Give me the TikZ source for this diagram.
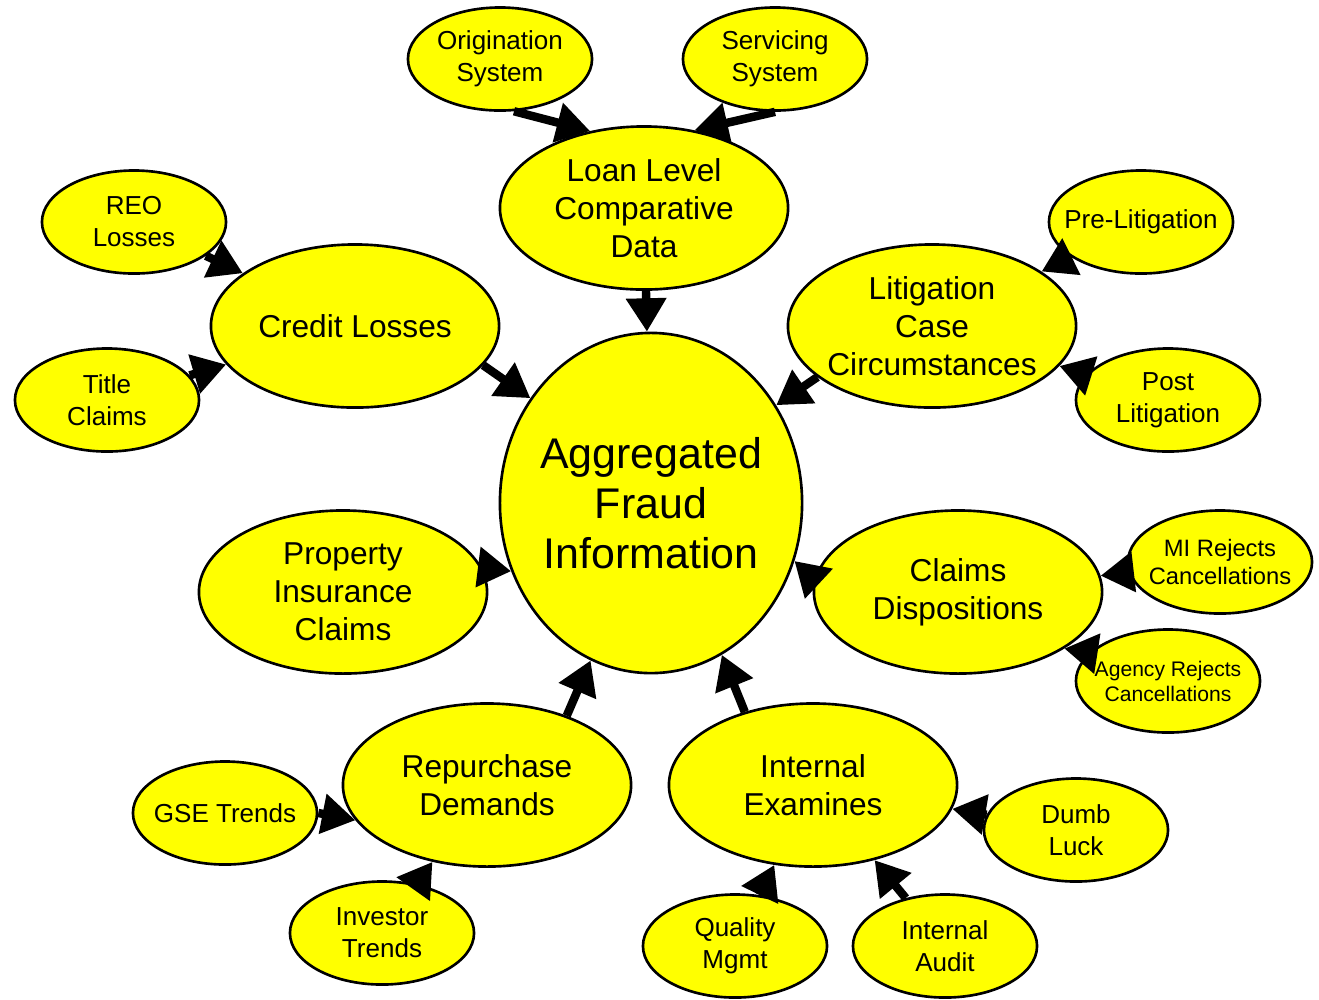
\documentclass[tikz,border=0pt]{standalone}
\usepackage{fontspec}
\setmainfont{Liberation Sans}
\usetikzlibrary{shapes.geometric,arrows.meta}
\definecolor{bubbleyellow}{RGB}{255,255,0}

\begin{document}
\begin{tikzpicture}[x=0.01cm, y=-0.01cm]
    \tikzstyle{bubble}=[ellipse, draw=black, line width=0.75pt, fill=bubbleyellow, align=center, inner xsep=-0.6cm, inner ysep=-2pt]
    \tikzstyle{hub}=[bubble, minimum width=3.02cm, minimum height=3.4cm, font=\fontsize{12.2}{14.2}\selectfont]
    \tikzstyle{mid}=[bubble, minimum width=2.88cm, minimum height=1.63cm, font=\fontsize{9}{10.8}\selectfont]
    \tikzstyle{leaf}=[bubble, minimum width=1.84cm, minimum height=1.03cm, font=\fontsize{7.4}{9.1}\selectfont]
    \tikzstyle{feed}=[draw=black, line width=2.4pt, -{Triangle[length=9.5pt, width=11pt]}]
    \useasboundingbox (0,0) rectangle (1319,999);

    % centre
    \node[hub] (agg) at (651,503) {Aggregated\\Fraud\\Information};

    % second ring
    \node[mid] (loan)   at (644,208) {Loan Level\\Comparative\\Data};
    \node[mid] (credit) at (355,326) {Credit Losses};
    \node[mid] (litig)  at (932,326) {Litigation\\Case\\Circumstances};
    \node[mid] (prop)   at (343,592) {Property\\Insurance\\Claims};
    \node[mid] (claims) at (958,592) {Claims\\Dispositions};
    \node[mid] (repur)  at (487,785) {Repurchase\\Demands};
    \node[mid] (exam)   at (813,785) {Internal\\Examines};

    % outer ring
    \node[leaf] (orig)    at (500,59)   {Origination\\System};
    \node[leaf] (serv)    at (775,59)   {Servicing\\System};
    \node[leaf] (reo)     at (134,222)  {REO\\Losses};
    \node[leaf] (title)   at (107,400)  {Title\\Claims};
    \node[leaf] (prelit)  at (1141,222) {Pre-Litigation};
    \node[leaf] (postlit) at (1168,400) {Post\\Litigation};
    \node[leaf, font=\fontsize{6.75}{8.2}\selectfont] (mirej) at (1220,562) {MI Rejects\\Cancellations};
    \node[leaf, font=\fontsize{6}{7.1}\selectfont] (agrej) at (1168,681) {Agency Rejects\\Cancellations};
    \node[leaf] (gse)     at (225,813)  {GSE Trends};
    \node[leaf] (invest)  at (382,933)  {Investor\\Trends};
    \node[leaf] (quality) at (735,946)  {Quality\\Mgmt};
    \node[leaf] (audit)   at (945,946)  {Internal\\Audit};
    \node[leaf] (luck)    at (1076,830) {Dumb\\Luck};

    % into the centre
    \draw[feed] (loan) -- (agg);
    \draw[feed] (credit.-17) -- (agg.139);
    \draw[feed] (litig.204) -- (agg.38);
    \draw[feed] (prop.10) -- (agg.206);
    \draw[feed] (claims.175) -- (agg.-22);
    \draw[feed] (repur.41) -- (agg.249);
    \draw[feed] (exam.133) -- (agg.-65);

    % into the second ring
    \draw[feed] (orig.285) -- (loan.125);
    \draw[feed] (serv.270) -- (loan.57);
    \draw[feed] (reo) -- (credit);
    \draw[feed] (title) -- (credit);
    \draw[feed] (prelit) -- (litig);
    \draw[feed] (postlit) -- (litig);
    \draw[feed] (mirej) -- (claims);
    \draw[feed] (agrej.160) -- (claims.-28);
    \draw[feed] (gse.east) -- (repur.195);
    \draw[feed] (invest) -- (repur);
    \draw[feed] (quality) -- (exam);
    \draw[feed] (audit) -- (exam);
    \draw[feed] (luck) -- (exam);
\end{tikzpicture}
\end{document}
